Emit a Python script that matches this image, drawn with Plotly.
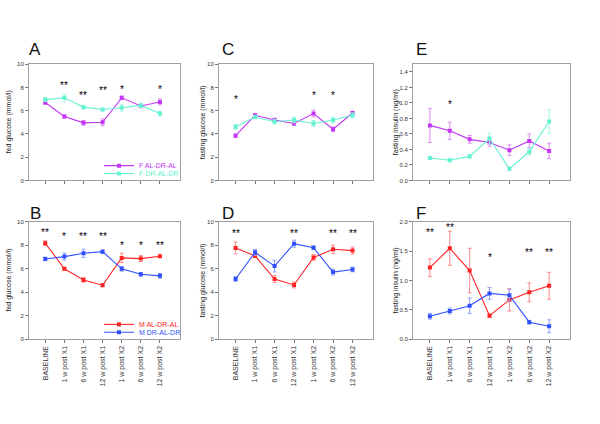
import plotly.graph_objects as go

categories = ["BASELINE", "1 w post X1", "6 w post X1", "12 w post X1",
              "1 w post X2", "6 w post X2", "12 w post X2"]

# Panel A: fed glucose, females
A_f_al = [6.7, 5.5, 4.95, 5.0, 7.1, 6.4, 6.75]
A_f_al_err = [0.15, 0.12, 0.2, 0.3, 0.15, 0.15, 0.25]
A_f_dr = [6.95, 7.1, 6.3, 6.1, 6.25, 6.45, 5.75]
A_f_dr_err = [0.15, 0.3, 0.15, 0.12, 0.3, 0.2, 0.2]
A_stars = ["", "**", "**", "**", "*", "", "*"]
A_star_y = [0, 8.3, 7.5, 7.9, 8.0, 0, 8.0]

# Panel C: fasting glucose, females
C_f_al = [3.85, 5.6, 5.2, 4.9, 5.75, 4.4, 5.8]
C_f_al_err = [0.15, 0.15, 0.15, 0.15, 0.3, 0.2, 0.15]
C_f_dr = [4.6, 5.45, 5.05, 5.2, 4.9, 5.2, 5.6]
C_f_dr_err = [0.2, 0.15, 0.2, 0.25, 0.25, 0.25, 0.2]
C_stars = ["*", "", "", "", "*", "*", ""]
C_star_y = [7.1, 0, 0, 0, 7.5, 7.5, 0]

# Panel E: fasting insulin, females
E_f_al = [0.71, 0.64, 0.53, 0.49, 0.39, 0.51, 0.38]
E_f_al_err = [0.22, 0.11, 0.05, 0.05, 0.07, 0.09, 0.1]
E_f_dr = [0.29, 0.26, 0.31, 0.54, 0.15, 0.37, 0.76]
E_f_dr_err = [0.02, 0.02, 0.02, 0.07, 0.02, 0.04, 0.15]
E_stars = ["", "*", "", "", "", "", ""]
E_star_y = [0, 1.0, 0, 0, 0, 0, 0]

# Panel B: fed glucose, males
B_m_al = [8.18, 6.0, 5.05, 4.6, 6.93, 6.87, 7.07]
B_m_al_err = [0.2, 0.1, 0.2, 0.1, 0.4, 0.25, 0.1]
B_m_dr = [6.84, 7.04, 7.32, 7.46, 6.0, 5.53, 5.4]
B_m_dr_err = [0.15, 0.3, 0.35, 0.15, 0.2, 0.15, 0.2]
B_stars = ["**", "*", "**", "**", "*", "*", "**"]
B_star_y = [9.27, 8.94, 8.94, 8.94, 8.18, 8.18, 8.18]

# Panel D: fasting glucose, males
D_m_al = [7.77, 7.1, 5.13, 4.62, 6.96, 7.66, 7.55]
D_m_al_err = [0.5, 0.15, 0.3, 0.25, 0.25, 0.35, 0.3]
D_m_dr = [5.13, 7.4, 6.23, 8.14, 7.8, 5.72, 5.94]
D_m_dr_err = [0.2, 0.25, 0.5, 0.3, 0.15, 0.25, 0.2]
D_stars = ["**", "", "", "**", "", "**", "**"]
D_star_y = [9.15, 0, 0, 9.15, 0, 9.15, 9.15]

# Panel F: fasting insulin, males
F_m_al = [1.22, 1.55, 1.17, 0.4, 0.67, 0.8, 0.91]
F_m_al_err = [0.15, 0.29, 0.38, 0.03, 0.19, 0.16, 0.23]
F_m_dr = [0.39, 0.48, 0.57, 0.78, 0.75, 0.29, 0.22]
F_m_dr_err = [0.05, 0.05, 0.13, 0.1, 0.1, 0.03, 0.11]
F_stars = ["**", "**", "", "*", "", "**", "**"]
F_star_y = [1.85, 1.93, 0, 1.42, 0, 1.51, 1.51]

MAG = "#C435F5"
MAG_E = "#DD8EF5"
CYAN = "#66F2D2"
CYAN_E = "#9FF5E2"
RED = "#FF2222"
RED_E = "#FF8A8A"
BLUE = "#3050FF"
BLUE_E = "#8FA2FF"

W, H = 600, 424
OX, OY = 0, 0   # body margin removed via post_script
cols = [(29, 180), (219, 373), (413, 570)]
rows = [(62, 180), (222, 341)]

def px(x):
    return (x - OX) / W

def py(y):
    return 1 - (y - OY) / H

def xd(c):
    return [px(c[0]), px(c[1])]

def yd(r):
    return [py(r[1]), py(r[0])]

fig = go.Figure()

xs = list(range(len(categories)))

panels = [
    (1, 0, 0, [("F AL-DR-AL", A_f_al, A_f_al_err, MAG, MAG_E, "legend"), ("F DR-AL-DR", A_f_dr, A_f_dr_err, CYAN, CYAN_E, "legend2")],
     [0, 10], 2, "fed glucose (mmol/l)", A_stars, A_star_y, "A", "%d"),
    (2, 1, 0, [("F AL-DR-AL", C_f_al, C_f_al_err, MAG, MAG_E, None), ("F DR-AL-DR", C_f_dr, C_f_dr_err, CYAN, CYAN_E, None)],
     [0, 10], 2, "fasting glucose (mmol/l)", C_stars, C_star_y, "C", "%d"),
    (3, 2, 0, [("F AL-DR-AL", E_f_al, E_f_al_err, MAG, MAG_E, None), ("F DR-AL-DR", E_f_dr, E_f_dr_err, CYAN, CYAN_E, None)],
     [0, 1.5], 0.2, "fasting insulin (ng/ml)", E_stars, E_star_y, "E", "%.1f"),
    (4, 0, 1, [("M AL-DR-AL", B_m_al, B_m_al_err, RED, RED_E, "legend3"), ("M DR-AL-DR", B_m_dr, B_m_dr_err, BLUE, BLUE_E, "legend4")],
     [0, 10], 2, "fed glucose (mmol/l)", B_stars, B_star_y, "B", "%d"),
    (5, 1, 1, [("M AL-DR-AL", D_m_al, D_m_al_err, RED, RED_E, None), ("M DR-AL-DR", D_m_dr, D_m_dr_err, BLUE, BLUE_E, None)],
     [0, 10], 2, "fasting glucose (mmol/l)", D_stars, D_star_y, "D", "%d"),
    (6, 2, 1, [("M AL-DR-AL", F_m_al, F_m_al_err, RED, RED_E, None), ("M DR-AL-DR", F_m_dr, F_m_dr_err, BLUE, BLUE_E, None)],
     [0, 2.0], 0.5, "fasting insulin (ng/ml)", F_stars, F_star_y, "F", "%.1f"),
]

FONT = "Liberation Sans, Arial"
annotations = []
layout = {}
for idx, ci, ri, series, yr, dt, ytitle, stars, stary, letter, fmt in panels:
    xa = "x" if idx == 1 else f"x{idx}"
    ya = "y" if idx == 1 else f"y{idx}"
    for name, vals, errs, col, ecol, leg in series:
        fig.add_trace(go.Scatter(
            x=xs, y=vals, name=name, mode="lines+markers",
            line=dict(color=col, width=1.1),
            marker=dict(symbol="square", size=4, color=col),
            error_y=dict(type="data", array=errs, visible=True, color=ecol, thickness=1, width=2),
            xaxis=xa, yaxis=ya, showlegend=leg is not None,
            legend=leg if leg else "legend",
        ))
    n = int(round((yr[1] - yr[0]) / dt + 1e-9))
    tv = [round(yr[0] + k * dt, 3) for k in range(n + 1) if yr[0] + k * dt <= yr[1] + 1e-9]
    tt = [fmt % v for v in tv]
    layout["xaxis" if idx == 1 else f"xaxis{idx}"] = dict(
        domain=xd(cols[ci]), anchor=ya, range=[-0.85, 7.05],
        tickmode="array", tickvals=xs, ticktext=categories if ri == 1 else [""] * 7,
        showticklabels=(ri == 1), tickangle=-90,
        ticks="outside", ticklen=3, tickcolor="#777", tickwidth=1,
        showline=True, linecolor="#a0a0a0", linewidth=1, mirror=True,
        showgrid=False, zeroline=False,
        tickfont=dict(size=7, color="#333", family=FONT),
    )
    layout["yaxis" if idx == 1 else f"yaxis{idx}"] = dict(
        domain=yd(rows[ri]), anchor=xa, range=yr,
        tickmode="array", tickvals=tv, ticktext=tt,
        ticks="outside", ticklen=3, tickcolor="#777", tickwidth=1,
        showline=True, linecolor="#a0a0a0", linewidth=1, mirror=True,
        showgrid=False, zeroline=False,
        tickfont=dict(size=6, color="#333", family=FONT),
    )
    for i, s in enumerate(stars):
        if s:
            annotations.append(dict(
                x=i, y=stary[i], xref=xa, yref=ya, text=s, showarrow=False,
                xanchor="center", yanchor="middle",
                font=dict(size=10, color="#000000", family=FONT),
                yshift=-2,
            ))
    tx = {0: 9, 1: 203, 2: 396}[ci]
    ty = (rows[ri][0] + rows[ri][1]) / 2
    annotations.append(dict(
        x=px(tx), y=py(ty), xref="paper", yref="paper", text=ytitle,
        textangle=-90, showarrow=False, xanchor="center", yanchor="middle",
        font=dict(size=7, color="#222", family=FONT),
    ))
    lx = {0: 35, 1: 228, 2: 421}[ci]
    ly = {0: 47, 1: 214}[ri]
    annotations.append(dict(
        x=px(lx), y=py(ly), xref="paper", yref="paper", text=letter,
        showarrow=False, xanchor="center", yanchor="middle",
        font=dict(size=17, color="#111", family=FONT),
    ))

def leg(x, y, color):
    return dict(
        x=px(x), y=py(y), xanchor="left", yanchor="middle",
        bgcolor="rgba(0,0,0,0)", borderwidth=0,
        font=dict(size=7, family=FONT, color=color),
        itemwidth=30,
    )

fig.update_layout(
    width=W, height=H, margin=dict(l=0, r=0, t=0, b=0),
    paper_bgcolor="white", plot_bgcolor="white",
    annotations=annotations,
    legend=leg(99, 165, MAG),
    legend2=leg(99, 173, CYAN),
    legend3=leg(99, 326, RED),
    legend4=leg(99, 334, BLUE),
    **layout,
)

fig.write_html("out.html", config={"displayModeBar": False},
               post_script="document.body.style.margin='0';")
